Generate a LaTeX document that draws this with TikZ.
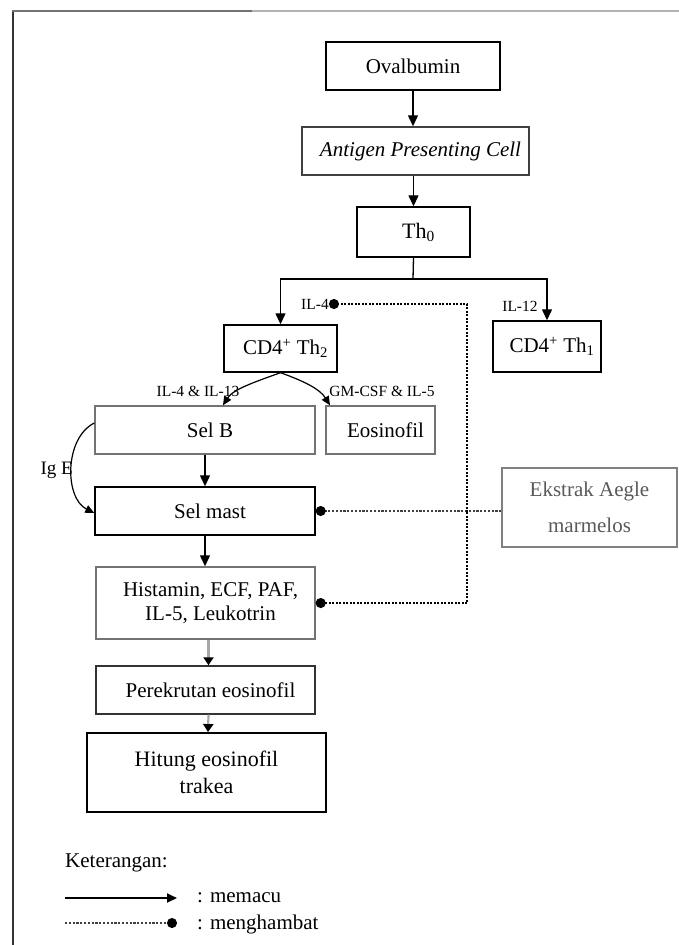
\documentclass[tikz,border=0pt]{standalone}
\usepackage{fontspec}
\setmainfont{Liberation Serif}
\usetikzlibrary{arrows.meta,calc}
\newcommand\shft{\hspace*{10pt}}
\begin{document}
\begin{tikzpicture}[x=1pt,y=-1pt,
  box/.style={draw=black, line width=1.4pt, inner sep=0pt, align=center,
              font=\fontsize{21}{24}\selectfont},
  gbox/.style={box, draw=black!55},
  lab/.style={inner sep=0pt, font=\fontsize{15.5}{17}\selectfont},
  legtxt/.style={inner sep=0pt, anchor=west, font=\fontsize{21}{24}\selectfont},
  arr/.style={line width=1.3pt, -{Triangle[length=11pt,width=10pt]}},
  sarr/.style={line width=1.2pt, -{Triangle[length=9pt,width=8pt]}},
  garr/.style={line width=2.2pt, draw=black!35, -{Triangle[length=8pt,width=10pt,color=black]}},
  inhv/.style={line width=2.2pt, dash pattern=on 2pt off 1.5pt, -{Circle[length=10pt,color=black]}},
  inhh/.style={line width=1.5pt, draw=black!75, dash pattern=on 2.2pt off 1.6pt},
]
\useasboundingbox (0,0) rectangle (679,945);
% frame
\draw[black!80, line width=1.8pt] (13,945) -- (13,10.7);
\draw[black!55, line width=1.8pt] (12.1,10.7) -- (252,10.7);
\draw[black!30, line width=1.8pt] (252,10.7) -- (679,10.7);

% boxes
\node[box, minimum width=174pt, minimum height=48pt] (oval) at (413,66) {Ovalbumin};
\node[box, draw=black!75, minimum width=227pt, minimum height=48pt] (apc) at (415.5,151) {\shft\textit{Antigen Presenting Cell}};
\node[box, minimum width=113pt, minimum height=50pt, font=\fontsize{22}{24}\selectfont] (th0) at (413.5,232) {\shft Th\textsubscript{0}};
\node[box, minimum width=113pt, minimum height=47pt] (th2) at (280.5,348.5) {\shft CD4\textsuperscript{+} Th\textsubscript{2}};
\node[box, minimum width=108pt, minimum height=51pt] (th1) at (547,346.5) {\shft CD4\textsuperscript{+} Th\textsubscript{1}};
\node[gbox, minimum width=220pt, minimum height=48pt] (selb) at (205,430) {\shft Sel B};
\node[gbox, minimum width=109pt, minimum height=48pt] (eos) at (380.5,430) {\shft Eosinofil};
\node[box, minimum width=220pt, minimum height=48pt] (mast) at (205,511) {\shft Sel mast};
\node[gbox, minimum width=219pt, minimum height=72pt] (hist) at (205.5,603) {\shft Histamin, ECF, PAF,\\\shft IL-5, Leukotrin};
\node[box, draw=black!80, minimum width=219pt, minimum height=48pt] (perek) at (205.5,690) {\shft Perekrutan eosinofil};
\node[box, line width=1.9pt, minimum width=239pt, minimum height=79pt, font=\fontsize{22}{27}\selectfont] (hit) at (206.5,772.5) {Hitung eosinofil\\trakea};
\node[box, draw=black!50, text=black!65, minimum width=175pt, minimum height=79pt, font=\fontsize{21}{36}\selectfont] (ekst) at (589.5,507.5) {Ekstrak Aegle\\marmelos};

% labels
\node[lab] (il4) at (315,304) {IL-4};
\node[lab] (il12) at (520,306) {IL-12};
\node[lab] (l413) at (198,391) {IL-4 \& IL-13};
\node[lab] (lgm) at (382,391) {GM-CSF \& IL-5};
\node[lab, anchor=east, font=\fontsize{19}{21}\selectfont] (ige) at (73,470) {Ig E};

% main arrows
\draw[arr] (oval.south) -- (oval.south |- apc.north);
\draw[arr] (th0.north |- apc.south) -- (th0.north);
\coordinate (br) at (413,279);
\draw[line width=1.3pt] (th0.south) -- (br);
\draw[arr] (br) -| (th2.north);
\draw[arr] (br) -| (th1.north);

\coordinate (selbt) at ([xshift=18pt]selb.north);
\coordinate (eost) at ([xshift=-50.5pt]eos.north);
\draw[sarr] (th2.south) .. controls ($(th2.south)+(-25,9)$) and ($(selbt)+(10,-16)$) .. (selbt);
\draw[sarr] (th2.south) .. controls ($(th2.south)+(25,9)$) and ($(eost)+(-10,-16)$) .. (eost);

\draw[arr] (selb.south) -- (mast.north);
\coordinate (ig1) at ([yshift=7pt]selb.west);
\coordinate (ig2) at ([yshift=-2pt]mast.west);
\draw[sarr] (ig1) .. controls ($(ig1)+(-30,15)$) and ($(ig2)+(-30,-15)$) .. (ig2);

\draw[arr] (mast.south) -- (mast.south |- hist.north);
\draw[garr] ([xshift=3pt]hist.south) -- ([xshift=3pt]perek.north);
\draw[garr] ([xshift=3pt]perek.south) -- ([xshift=1.5pt]hit.north);

% inhibition
\coordinate (j) at (467,512);
\draw[inhh, -{Circle[length=10pt,color=black]}] (mast.east -| ekst.west) -- (mast.east);
\draw[inhv] (j) |- (il4.east);
\draw[inhv] (j) |- (hist.east);

% legend
\node[legtxt] (ket) at (65,863) {Keterangan:};
\coordinate (la) at (65,898);
\coordinate (lb) at (177,898);
\draw[line width=1.8pt, -{Triangle[length=10pt,width=9pt]}] (la) -- (lb);
\node[legtxt] (mem) at (197,898) {: memacu};
\coordinate (lc) at (65,923);
\coordinate (ld) at (177,923);
\draw[inhh, -{Circle[length=10pt,color=black]}] (lc) -- (ld);
\node[legtxt] (men) at (197,924) {: menghambat};
\end{tikzpicture}
\end{document}
